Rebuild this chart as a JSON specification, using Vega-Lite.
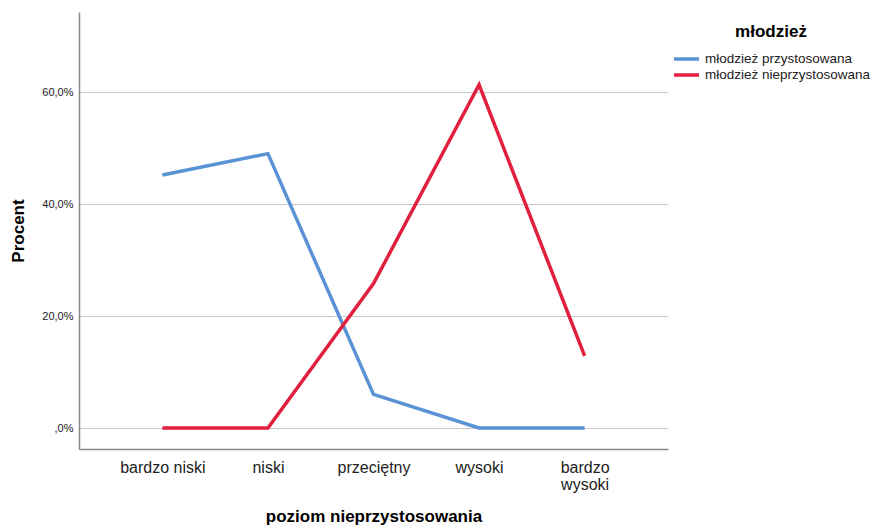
{
  "$schema": "https://vega.github.io/schema/vega-lite/v6.json",
  "autosize": "none",
  "width": 589,
  "height": 437,
  "padding": {"left": 79, "top": 12, "right": 204, "bottom": 78},
  "background": "white",
  "config": {
    "font": "Liberation Sans",
    "view": {"stroke": null}
  },
  "data": {
    "values": [
      {"poziom": "bardzo niski", "grupa": "młodzież przystosowana", "procent": 45.2},
      {"poziom": "niski", "grupa": "młodzież przystosowana", "procent": 49.0},
      {"poziom": "przeciętny", "grupa": "młodzież przystosowana", "procent": 6.0},
      {"poziom": "wysoki", "grupa": "młodzież przystosowana", "procent": 0},
      {"poziom": "bardzo wysoki", "grupa": "młodzież przystosowana", "procent": 0},
      {"poziom": "bardzo niski", "grupa": "młodzież nieprzystosowana", "procent": 0},
      {"poziom": "niski", "grupa": "młodzież nieprzystosowana", "procent": 0},
      {"poziom": "przeciętny", "grupa": "młodzież nieprzystosowana", "procent": 25.8},
      {"poziom": "wysoki", "grupa": "młodzież nieprzystosowana", "procent": 61.3},
      {"poziom": "bardzo wysoki", "grupa": "młodzież nieprzystosowana", "procent": 12.9}
    ]
  },
  "mark": {"type": "line", "strokeWidth": 3.5, "strokeCap": "butt", "strokeJoin": "miter"},
  "encoding": {
    "x": {
      "field": "poziom",
      "type": "nominal",
      "sort": ["bardzo niski", "niski", "przeciętny", "wysoki", "bardzo wysoki"],
      "scale": {"type": "point", "padding": 0.79},
      "axis": {
        "title": "poziom nieprzystosowania",
        "titleFontSize": 17,
        "titleFontWeight": "bold",
        "titleColor": "#000",
        "titlePadding": 16,
        "labelAngle": 0,
        "labelFontSize": 16,
        "labelColor": "#222",
        "labelPadding": 10,
        "labelLineHeight": 17,
        "labelExpr": "datum.label == 'bardzo wysoki' ? ['bardzo', 'wysoki'] : datum.label",
        "ticks": false,
        "grid": false,
        "domainColor": "#888",
        "domainWidth": 1.5
      }
    },
    "y": {
      "field": "procent",
      "type": "quantitative",
      "scale": {"domain": [-3.75, 74.3], "nice": false, "zero": false},
      "axis": {
        "title": "Procent",
        "titleFontSize": 17,
        "titleFontWeight": "bold",
        "titleColor": "#000",
        "titlePadding": 14,
        "values": [0, 20, 40, 60],
        "labelExpr": "datum.value == 0 ? ',0%' : replace(format(datum.value, '.1f'), '.', ',') + '%'",
        "labelFontSize": 11,
        "labelColor": "#222",
        "labelPadding": 6,
        "ticks": false,
        "grid": true,
        "gridColor": "#c8c8c8",
        "gridWidth": 1.2,
        "domainColor": "#888",
        "domainWidth": 1.5
      }
    },
    "color": {
      "field": "grupa",
      "type": "nominal",
      "sort": ["młodzież przystosowana", "młodzież nieprzystosowana"],
      "scale": {"domain": ["młodzież przystosowana", "młodzież nieprzystosowana"], "range": ["#5a92d6", "#e0203e"]},
      "legend": {
        "title": "młodzież",
        "titleFontSize": 17,
        "titleFontWeight": "bold",
        "titleColor": "#000",
        "titleAnchor": "middle",
        "titlePadding": 10,
        "labelFontSize": 13.5,
        "labelLimit": 300,
        "labelColor": "#222",
        "orient": "none",
        "legendX": 593,
        "legendY": 12,
        "symbolType": "stroke",
        "symbolSize": 625,
        "symbolStrokeWidth": 3.5,
        "clipHeight": 16,
        "rowPadding": 0,
        "labelOffset": 4
      }
    }
  }
}
